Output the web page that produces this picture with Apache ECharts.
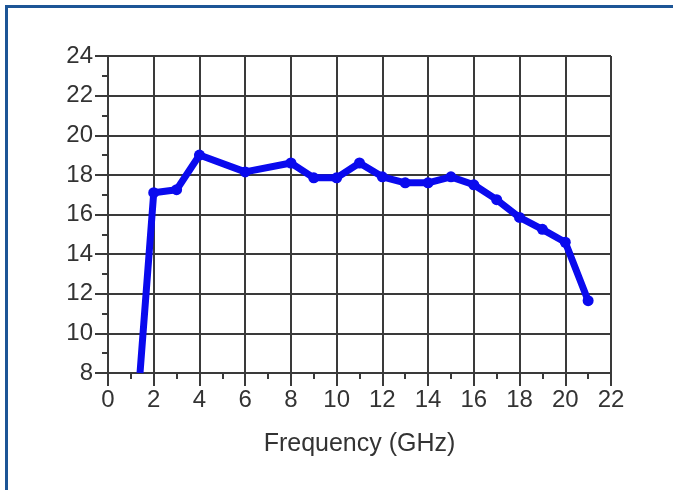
<!DOCTYPE html>
<html>
<head>
<meta charset="utf-8">
<script src="https://cdn.jsdelivr.net/npm/echarts@6/dist/echarts.min.js"></script>
<style>
  html, body { margin: 0; padding: 0; background: #fff; }
  #frame {
    position: absolute; left: 5px; top: 5px; width: 668px; height: 485px;
    border-left: 3px solid #1d5596; border-top: 3px solid #1d5596;
  }
  #chart { position: absolute; left: 0; top: 0; width: 673px; height: 490px; }
</style>
</head>
<body>
<div id="frame"></div>
<div id="chart"></div>
<script>
const freq = [1.4, 2, 3, 4, 6, 8, 9, 10, 11, 12, 13, 14, 15, 16, 17, 18, 19, 20, 21];
const gain = [8, 17.1, 17.25, 19.0, 18.15, 18.6, 17.85, 17.85, 18.6, 17.9, 17.6, 17.6, 17.9, 17.5, 16.75, 15.85, 15.25, 14.6, 11.65];

const xTicks = { min: 0, max: 22, interval: 2 };
const yTicks = { min: 8, max: 24, interval: 2 };

const chart = echarts.init(document.getElementById('chart'), null, { renderer: 'canvas' });

const ink = '#3a3a3a';
const gridLine = { show: true, lineStyle: { color: ink, width: 2 } };
const labelFont = { color: '#333', fontFamily: 'Liberation Sans, Arial, sans-serif', fontSize: 24 };

chart.setOption({
  animation: false,
  grid: { left: 108, top: 56, right: 62, bottom: 117 },
  xAxis: {
    type: 'value',
    min: xTicks.min, max: xTicks.max, interval: xTicks.interval,
    name: 'Frequency (GHz)',
    nameLocation: 'middle',
    nameGap: 59,
    nameTextStyle: { color: '#333', fontFamily: 'Liberation Sans, Arial, sans-serif', fontSize: 25 },
    axisLine: { show: true, onZero: false, lineStyle: { color: ink, width: 2 } },
    axisTick: { show: true, length: 13, lineStyle: { color: ink, width: 2 } },
    minorTick: { show: true, splitNumber: 2, length: 6, lineStyle: { color: ink, width: 2 } },
    axisLabel: Object.assign({ margin: 15 }, labelFont),
    splitLine: gridLine
  },
  yAxis: {
    type: 'value',
    min: yTicks.min, max: yTicks.max, interval: yTicks.interval,
    axisLine: { show: true, onZero: false, lineStyle: { color: ink, width: 2 } },
    axisTick: { show: true, length: 13, lineStyle: { color: ink, width: 2 } },
    minorTick: { show: true, splitNumber: 2, length: 6, lineStyle: { color: ink, width: 2 } },
    axisLabel: Object.assign({ margin: 15 }, labelFont),
    splitLine: gridLine
  },
  series: [{
    type: 'line',
    data: freq.map((f, i) => [f, gain[i]]),
    clip: true,
    symbol: 'circle',
    symbolSize: (v, p) => (p.dataIndex === 0 ? 0 : 11),
    showSymbol: true,
    lineStyle: { color: '#0a0aee', width: 7 },
    itemStyle: { color: '#0a0aee' }
  }]
});
</script>
</body>
</html>
